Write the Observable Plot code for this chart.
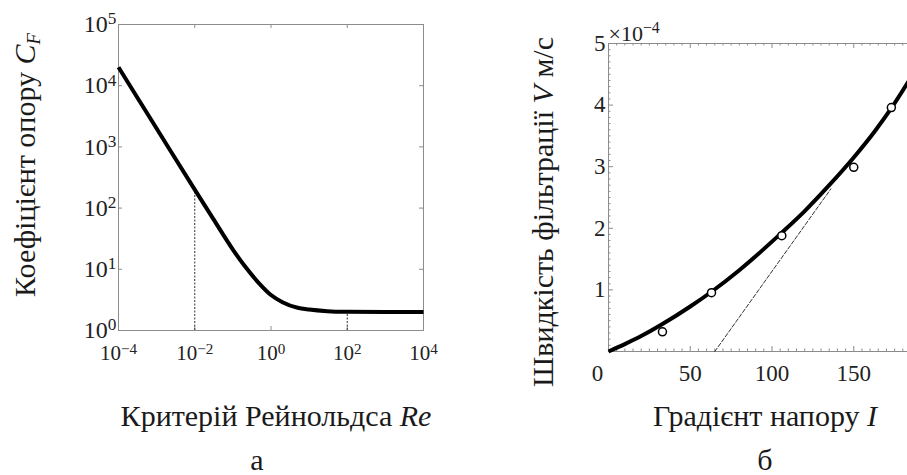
<!DOCTYPE html>
<html><head><meta charset="utf-8">
<script src="https://cdn.jsdelivr.net/npm/d3@7"></script>
<script src="https://cdn.jsdelivr.net/npm/@observablehq/plot@0.6"></script>
<style>
body{margin:0;background:#fff;}
#wrap{position:relative;width:907px;height:475px;overflow:hidden;background:#fff;color:#1a1a1a;}
.pa{position:absolute;}
.pa svg{max-width:none !important;}
.lab{position:absolute;white-space:nowrap;font-size:30px;line-height:30px;}
.lab i{font-style:italic;}
.h{transform:translateX(-50%);}
.v{transform-origin:0 0;transform:rotate(-90deg) translate(-50%,-25px);}
.cap{line-height:26px;}
sub{font-size:0.62em;vertical-align:baseline;position:relative;top:0.28em;}
</style></head><body>
<div id="wrap" style="font-family:'Liberation Serif'">
 <div id="pa" class="pa" style="left:0;top:0;width:450px"></div>
 <div id="pb" class="pa" style="left:450px;top:0;width:500px"></div>
 <div class="lab v" style="left:35px;top:165px;font-family:'Liberation Serif'">Коефіцієнт опору <i>C<sub>F</sub></i></div>
 <div class="lab h" style="left:276px;top:401px;font-family:'Liberation Serif'">Критерій Рейнольдса <i>Re</i></div>
 <div class="lab h cap" style="left:257px;top:447px;font-family:'Liberation Serif'">а</div>
 <div class="lab v" style="left:553px;top:212px;font-family:'Liberation Serif'">Швидкість фільтрації <i>V</i> м/с</div>
 <div class="lab h" style="left:765px;top:401px;font-family:'Liberation Serif'">Градієнт напору <i>I</i></div>
 <div class="lab h cap" style="left:765px;top:447px;font-family:'Liberation Serif'">б</div>
</div>
<script>
// ---- Panel a: drag coefficient vs Reynolds number ----
const reValues = [1e-4, 1e-3, 1e-2, 3e-2, 1e-1, 0.2, 0.5, 1, 2, 5, 10, 30, 100, 1e3, 1e4];
const cfValues = [2e4, 2e3, 200, 68, 21, 11.5, 5.8, 3.8, 2.9, 2.35, 2.2, 2.07, 2.02, 2.0, 2.0];
const guideRe = [1e-2, 1e2];
const guideTop = [180, 2];
const xTicksA = [1e-4, 1e-2, 1, 1e2, 1e4];
const yTicksA = [1, 10, 100, 1e3, 1e4, 1e5];

// ---- Panel b: filtration velocity vs head gradient ----
const curveI = [0, 10, 20, 33, 50, 63, 80, 106, 120, 135, 150, 163, 173, 185];
const curveV = [0, 0.12e-4, 0.25e-4, 0.445e-4, 0.73e-4, 0.97e-4, 1.32e-4, 1.93e-4, 2.28e-4, 2.70e-4, 3.15e-4, 3.58e-4, 3.95e-4, 4.45e-4];
const pointI = [33, 63, 106, 150, 173];
const pointV = [0.32e-4, 0.955e-4, 1.88e-4, 2.99e-4, 3.96e-4];
const tangentI = [65, 136];
const tangentV = [0, 2.64e-4];
const xTicksB = [0, 50, 100, 150, 200];
const xLabelsB = [0, 50, 100, 150];
const yTicksB = [1e-4, 2e-4, 3e-4, 4e-4, 5e-4];
const yFrameTicksB = [0, 1e-4, 2e-4, 3e-4, 4e-4, 5e-4];
const xMinorB = d3.range(0, 201, 5).filter(d => d % 50 !== 0);
const yMinorB = d3.range(0, 51).filter(i => i % 10 !== 0).map(i => i * 1e-5);
const exponentLabel = "×10|−4";

const frameColor = "#8c8c8c";
const fmtPow = d => "10|" + String(Math.round(Math.log10(d))).replace("-", "−");

function finishText(svg) {
  const s = d3.select(svg);
  s.attr("font-family", "Liberation Serif").style("font-family", "Liberation Serif");
  s.selectAll("text").each(function () {
    const sel = d3.select(this);
    sel.attr("font-family", "Liberation Serif").style("font-family", "Liberation Serif");
    const t = this.textContent;
    if (t.includes("|")) {
      const [base, exp] = t.split("|");
      sel.text(null);
      sel.append("tspan").text(base);
      sel.append("tspan").attr("dy", "-0.45em").attr("font-size", "0.72em").text(exp);
    }
  });
}

// Panel a
const WA = 450, HA = 380, mlA = 118, mtA = 24, mrA = 27, mbA = 50;
const iwA = WA - mlA - mrA, ihA = HA - mtA - mbA;
const curveA = reValues.map((r, i) => ({r, c: cfValues[i]}));
const guidesA = guideRe.map((r, i) => ({r, lo: 1, hi: guideTop[i]}));
const plotA = Plot.plot({
  width: WA, height: HA, marginLeft: mlA, marginTop: mtA, marginRight: mrA, marginBottom: mbA,
  x: {type: "log", domain: [1e-4, 1e4]},
  y: {type: "log", domain: [1, 1e5]},
  style: {fontSize: "21px", color: "#222", background: "transparent", maxWidth: "none"},
  marks: [
    Plot.tickX(xTicksA, {x: d => d, insetTop: ihA - 4, stroke: frameColor}),
    Plot.tickX(xTicksA, {x: d => d, insetBottom: ihA - 4, stroke: frameColor}),
    Plot.tickY(yTicksA, {y: d => d, insetLeft: iwA - 4, stroke: frameColor}),
    Plot.tickY(yTicksA, {y: d => d, insetRight: iwA - 4, stroke: frameColor}),
    Plot.frame({stroke: frameColor, strokeWidth: 1}),
    Plot.ruleX(guidesA, {x: "r", y1: "lo", y2: "hi", stroke: "#333", strokeWidth: 1, strokeDasharray: "2,1.5"}),
    Plot.line(curveA, {x: "r", y: "c", curve: "monotone-x", stroke: "#000", strokeWidth: 4, strokeLinecap: "butt"}),
    Plot.axisX({ticks: xTicksA, tickSize: 0, tickPadding: 15, tickFormat: fmtPow, label: null}),
    Plot.axisY({ticks: yTicksA, tickSize: 0, tickPadding: 2, tickFormat: fmtPow, label: null, fontSize: 24})
  ]
});
finishText(plotA);
document.getElementById("pa").appendChild(plotA);

// Panel b
const WB = 500, HB = 380, mlB = 158, mtB = 43, mrB = 15, mbB = 29;
const iwB = WB - mlB - mrB, ihB = HB - mtB - mbB;
const curveB = curveI.map((x, i) => ({x, v: curveV[i]}));
const pointsB = pointI.map((x, i) => ({x, v: pointV[i]}));
const tangentB = tangentI.map((x, i) => ({x, v: tangentV[i]}));
const maj = 5, mnr = 2.5;
const plotB = Plot.plot({
  width: WB, height: HB, marginLeft: mlB, marginTop: mtB, marginRight: mrB, marginBottom: mbB,
  x: {domain: [0, 200]},
  y: {domain: [0, 5e-4]},
  style: {fontSize: "23px", color: "#222", background: "transparent", overflow: "visible", maxWidth: "none"},
  marks: [
    Plot.tickX(xMinorB, {x: d => d, insetTop: ihB - mnr, stroke: frameColor}),
    Plot.tickX(xMinorB, {x: d => d, insetBottom: ihB - mnr, stroke: frameColor}),
    Plot.tickX(xTicksB, {x: d => d, insetTop: ihB - maj, stroke: frameColor}),
    Plot.tickX(xTicksB, {x: d => d, insetBottom: ihB - maj, stroke: frameColor}),
    Plot.tickY(yMinorB, {y: d => d, insetLeft: iwB - mnr, stroke: frameColor}),
    Plot.tickY(yMinorB, {y: d => d, insetRight: iwB - mnr, stroke: frameColor}),
    Plot.tickY(yFrameTicksB, {y: d => d, insetLeft: iwB - maj, stroke: frameColor}),
    Plot.tickY(yFrameTicksB, {y: d => d, insetRight: iwB - maj, stroke: frameColor}),
    Plot.frame({stroke: frameColor, strokeWidth: 1}),
    Plot.line(tangentB, {x: "x", y: "v", stroke: "#333", strokeWidth: 1, strokeDasharray: "4,2"}),
    Plot.line(curveB, {x: "x", y: "v", curve: "monotone-x", stroke: "#000", strokeWidth: 4, strokeLinecap: "butt"}),
    Plot.dot(pointsB, {x: "x", y: "v", r: 4, fill: "#fff", stroke: "#000", strokeWidth: 1.5}),
    Plot.axisX({ticks: xLabelsB, tickSize: 0, tickPadding: 13, tickFormat: d => String(d), label: null}),
    Plot.axisY({ticks: yTicksB, tickSize: 0, tickPadding: 3, tickFormat: d => String(Math.round(d * 1e4)), label: null}),
    Plot.text([exponentLabel], {text: d => d, frameAnchor: "top-left", textAnchor: "start", lineAnchor: "bottom", dy: -3, fontSize: 22})
  ]
});
finishText(plotB);
d3.select(plotB).selectAll('[aria-label="x-axis tick label"] text').each(function () {
  if (this.textContent === "0") d3.select(this).attr("dx", -11);
});
document.getElementById("pb").appendChild(plotB);
</script>
</body></html>
